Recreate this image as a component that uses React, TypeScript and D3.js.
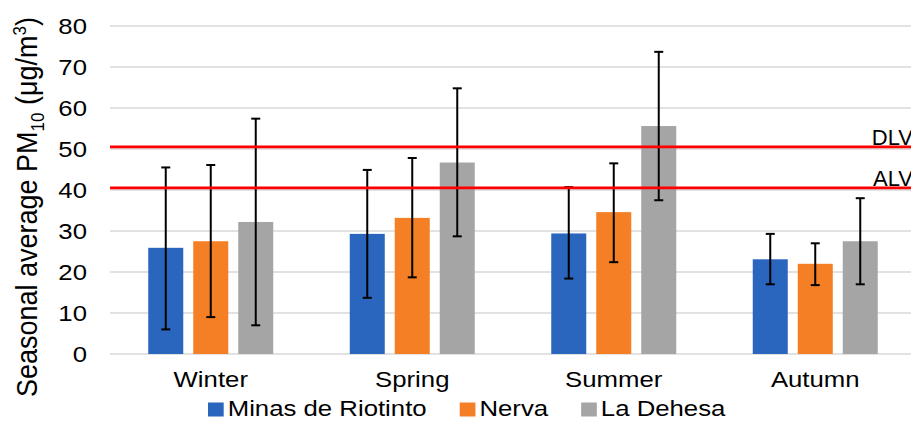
import React from "react";
import * as d3 from "d3";

const seasons = ["Winter", "Spring", "Summer", "Autumn"];
const sites = ["Minas de Riotinto", "Nerva", "La Dehesa"];
const siteColors = ["#2A66BE", "#F47F24", "#A5A5A5"];

// seasonal means per site (rows = site, cols = season)
const riotinto = [25.9, 29.3, 29.4, 23.1];
const nerva = [27.5, 33.2, 34.6, 22.0];
const dehesa = [32.2, 46.7, 55.6, 27.5];

// error bar extents
const riotintoLow = [6.0, 13.7, 18.4, 17.0];
const riotintoHigh = [45.5, 44.9, 40.7, 29.3];
const nervaLow = [9.0, 18.7, 22.4, 16.8];
const nervaHigh = [46.1, 47.8, 46.5, 27.0];
const dehesaLow = [7.0, 28.7, 37.5, 17.0];
const dehesaHigh = [57.4, 64.8, 73.7, 38.0];

const yTicks = [0, 10, 20, 30, 40, 50, 60, 70, 80];
const limitNames = ["DLV", "ALV"];
const limitValues = [50.5, 40.5];

const W = 919;
const H = 431;
const FONT = "'Liberation Sans', Arial, sans-serif";
const SX = 1.12;

const means = [riotinto, nerva, dehesa];
const lows = [riotintoLow, nervaLow, dehesaLow];
const highs = [riotintoHigh, nervaHigh, dehesaHigh];

let ctx: CanvasRenderingContext2D | null = null;
const measure = (s: string, size: number) => {
  if (!ctx) ctx = document.createElement("canvas").getContext("2d");
  if (!ctx) return s.length * size * 0.55;
  ctx.font = `${size}px ${FONT}`;
  return ctx.measureText(s).width;
};

const App = () => {
  const left = 110;
  const right = 918;
  const x = d3.scaleBand().domain(seasons).range([left, 916]);
  const xi = d3
    .scaleBand()
    .domain(sites)
    .range([0, x.bandwidth()])
    .paddingInner(0.222)
    .paddingOuter(0.85);
  const y = d3.scaleLinear().domain([0, 80]).range([354, 26]);

  // legend layout
  let lx = 208;
  const legend = sites.map((s, i) => {
    const item = { s, i, x: lx };
    lx += 15.7 + 4 + measure(s, 23) * SX + 33;
    return item;
  });

  return (
    <svg width={W} height={H} style={{ display: "block", margin: "-8px" }} fontFamily={FONT}>
      <rect width={W} height={H} fill="#fff" />
      {yTicks.map(t => (
        <g key={t}>
          <line x1={left} x2={right} y1={y(t)} y2={y(t)} stroke="#D9D9D9" strokeWidth={1.5} />
          <text
            transform={`translate(87,${y(t)}) scale(${SX},1)`}
            textAnchor="end"
            dy="0.35em"
            fontSize={23}
            fill="#000"
          >
            {t}
          </text>
        </g>
      ))}

      {seasons.map((season, si) => (
        <g key={season} transform={`translate(${x(season)},0)`}>
          {sites.map((site, k) => {
            const bx = xi(site) as number;
            const cx = bx + xi.bandwidth() / 2;
            return (
              <g key={site}>
                <rect
                  x={bx}
                  y={y(means[k][si])}
                  width={xi.bandwidth()}
                  height={y(0) - y(means[k][si])}
                  fill={siteColors[k]}
                />
                <line x1={cx} x2={cx} y1={y(highs[k][si])} y2={y(lows[k][si])} stroke="#000" strokeWidth={2} />
                <line x1={cx - 4.5} x2={cx + 4.5} y1={y(highs[k][si])} y2={y(highs[k][si])} stroke="#000" strokeWidth={2} />
                <line x1={cx - 4.5} x2={cx + 4.5} y1={y(lows[k][si])} y2={y(lows[k][si])} stroke="#000" strokeWidth={2} />
              </g>
            );
          })}
          <text
            transform={`translate(${x.bandwidth() / 2},387) scale(${SX},1)`}
            textAnchor="middle"
            fontSize={23}
            fill="#000"
          >
            {season}
          </text>
        </g>
      ))}

      {limitValues.map((v, i) => (
        <g key={limitNames[i]}>
          <line x1={left} x2={right + 1} y1={y(v)} y2={y(v)} stroke="#FF0000" strokeWidth={2.8} />
          <text x={913} y={y(v) - 2} textAnchor="end" fontSize={22} fill="#000">
            {limitNames[i]}
          </text>
        </g>
      ))}

      <text transform={`translate(37,207) scale(${SX},1) rotate(-90)`} textAnchor="middle" fontSize={27} fill="#000">
        Seasonal average PM
        <tspan fontSize={17} dy={6}>10</tspan>
        <tspan dy={-6}> (μg/m</tspan>
        <tspan fontSize={17} dy={-10}>3</tspan>
        <tspan dy={10}>)</tspan>
      </text>

      {legend.map(d => (
        <g key={d.s}>
          <rect x={d.x} y={402.5} width={15.7} height={14} fill={siteColors[d.i]} />
          <text
            transform={`translate(${d.x + 19.7},415.5) scale(${SX},1)`}
            fontSize={23}
            fill="#000"
          >
            {d.s}
          </text>
        </g>
      ))}
    </svg>
  );
};

export default App;
